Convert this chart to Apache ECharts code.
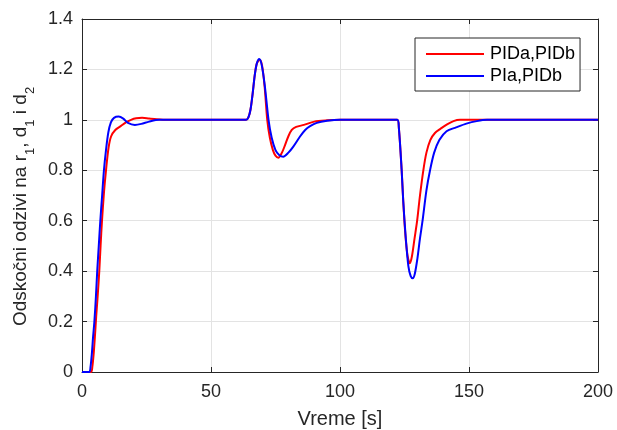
<!DOCTYPE html>
<html><head><meta charset="utf-8">
<script src="https://cdn.jsdelivr.net/npm/echarts@6/dist/echarts.min.js"></script>
<style>html,body{margin:0;padding:0;background:#fff}#c{width:617px;height:430px}</style>
</head><body><div id="c"></div>
<script>
const seriesNames = ['PIDa,PIDb', 'PIa,PIDb'];
const xTicks = [0, 50, 100, 150, 200];
const yTicks = [0, 0.2, 0.4, 0.6, 0.8, 1, 1.2, 1.4];

const redT = [0,3.5,4,4.5,5,5.5,6,6.7,7.2,7.75,8.5,9.3,10.3,11.3,12.9,15,17,19,21,23.3,26,29,33,63.6,64.5,65.3,66.1,67,67.8,68.9,69.8,70.8,71.8,72.8,74,75,76.1,77.5,78.7,80,81.3,83,86,90,95,100,122.2,122.8,123.9,124.5,125.3,126.2,127.1,127.9,128.9,129.9,131,132.3,133.5,135,136.8,139,141.5,144,146.5,200];
const redY = [0,0,0.02,0.07,0.14,0.22,0.29,0.4,0.5,0.6,0.71,0.8,0.89,0.935,0.96,0.975,0.99,1.0,1.006,1.008,1.005,1.002,1.0,1.0,1.01,1.04,1.1,1.18,1.225,1.238,1.215,1.13,1.0,0.93,0.88,0.858,0.85,0.87,0.9,0.935,0.96,0.972,0.98,0.993,0.998,1.0,1.0,0.97,0.8,0.68,0.55,0.46,0.431,0.46,0.53,0.6,0.7,0.8,0.87,0.92,0.948,0.965,0.982,0.995,1.0,1.0];

const blueT = [0,2.8,3.3,3.8,4.3,4.8,5.4,5.9,6.5,7.1,7.8,8.5,9.3,10.2,11.2,12.4,14.2,16,17.8,20.5,23,26,30,63.6,64.5,65.3,66.1,67,67.8,68.7,69.6,70.8,72.3,73.5,75,76.5,78,80,81.9,84.5,86.5,88.4,91,95,100,122.2,122.8,123.9,124.5,125.5,126.5,127.4,128.2,129,130,131,132,133.5,134.9,136.5,138.5,141.3,145,149,153,157,200];
const blueY = [0,0,0.02,0.07,0.14,0.2,0.3,0.4,0.5,0.6,0.7,0.8,0.88,0.95,0.99,1.008,1.013,1.005,0.988,0.98,0.984,0.993,1.0,1.0,1.01,1.04,1.1,1.18,1.225,1.241,1.22,1.14,1.0,0.93,0.88,0.86,0.854,0.87,0.894,0.934,0.96,0.975,0.988,0.996,1.0,1.0,0.97,0.8,0.68,0.53,0.42,0.38,0.372,0.39,0.45,0.53,0.6,0.72,0.8,0.87,0.92,0.955,0.97,0.985,0.995,1.0,1.0];

const pairs = (t, y) => t.map((v, i) => [v, y[i]]);
const axisCol = '#262626';
const font = 'Liberation Sans, Arial, sans-serif';

const chart = echarts.init(document.getElementById('c'), null, {renderer: 'canvas'});
const baseX = {
  type: 'value', min: xTicks[0], max: xTicks[xTicks.length - 1], interval: xTicks[1] - xTicks[0],
  axisLine: {show: true, onZero: false, lineStyle: {color: axisCol, width: 1}},
  axisTick: {show: true, inside: true, length: 5, lineStyle: {color: axisCol}},
};
const baseY = {
  type: 'value', min: yTicks[0], max: yTicks[yTicks.length - 1], interval: 0.2,
  axisLine: {show: true, onZero: false, lineStyle: {color: axisCol, width: 1}},
  axisTick: {show: true, inside: true, length: 5, lineStyle: {color: axisCol}},
};
chart.setOption({
  animation: false,
  backgroundColor: '#fff',
  grid: {left: 82, right: 19, top: 19, bottom: 58, containLabel: false, outerBoundsMode: 'none'},
  legend: {
    data: [
      {name: seriesNames[0], icon: 'rect'},
      {name: seriesNames[1], icon: 'rect'}
    ],
    orient: 'vertical', left: 415, top: 38,
    itemWidth: 58, itemHeight: 2, itemGap: 4,
    padding: [7, 5, 6, 11],
    borderColor: '#262626', borderWidth: 1, backgroundColor: '#fff',
    textStyle: {fontFamily: font, fontSize: 18, color: '#000', lineHeight: 18, padding: [0, 0, 0, 1]}
  },
  xAxis: [
    Object.assign({}, baseX, {
      position: 'bottom',
      name: 'Vreme [s]', nameLocation: 'middle', nameGap: 37,
      nameTextStyle: {fontFamily: font, fontSize: 20, color: axisCol},
      axisLabel: {fontFamily: font, fontSize: 18, color: axisCol, margin: 11},
      splitLine: {show: true, lineStyle: {color: '#e3e3e3', width: 1}}
    }),
    Object.assign({}, baseX, {position: 'top', axisLabel: {show: false}, splitLine: {show: false}})
  ],
  yAxis: [
    Object.assign({}, baseY, {
      position: 'left',
      name: '{n|Odskočni odzivi na r}{s|1}{n|, d}{s|1}{n| i d}{s|2}',
      nameLocation: 'middle', nameGap: 42,
      nameTextStyle: {
        fontFamily: font, fontSize: 19, color: axisCol, padding: [0, 22, 0, 0],
        rich: {
          n: {fontFamily: font, fontSize: 19, color: axisCol, verticalAlign: 'bottom', lineHeight: 23},
          s: {fontFamily: font, fontSize: 13, color: axisCol, verticalAlign: 'bottom', lineHeight: 23, padding: [0, 0, -7, 0]}
        }
      },
      axisLabel: {fontFamily: font, fontSize: 18, color: axisCol, margin: 9,
        formatter: v => String(Math.round(v * 10) / 10)},
      splitLine: {show: true, lineStyle: {color: '#e3e3e3', width: 1}}
    }),
    Object.assign({}, baseY, {position: 'right', axisLabel: {show: false}, splitLine: {show: false}})
  ],
  series: [
    {name: seriesNames[0], type: 'line', data: pairs(redT, redY), smooth: 0.3, showSymbol: false,
     lineStyle: {color: '#ff0000', width: 2}, itemStyle: {color: '#ff0000'}, z: 2},
    {name: seriesNames[1], type: 'line', data: pairs(blueT, blueY), smooth: 0.3, showSymbol: false,
     lineStyle: {color: '#0000ff', width: 2}, itemStyle: {color: '#0000ff'}, z: 3}
  ]
});
</script></body></html>
